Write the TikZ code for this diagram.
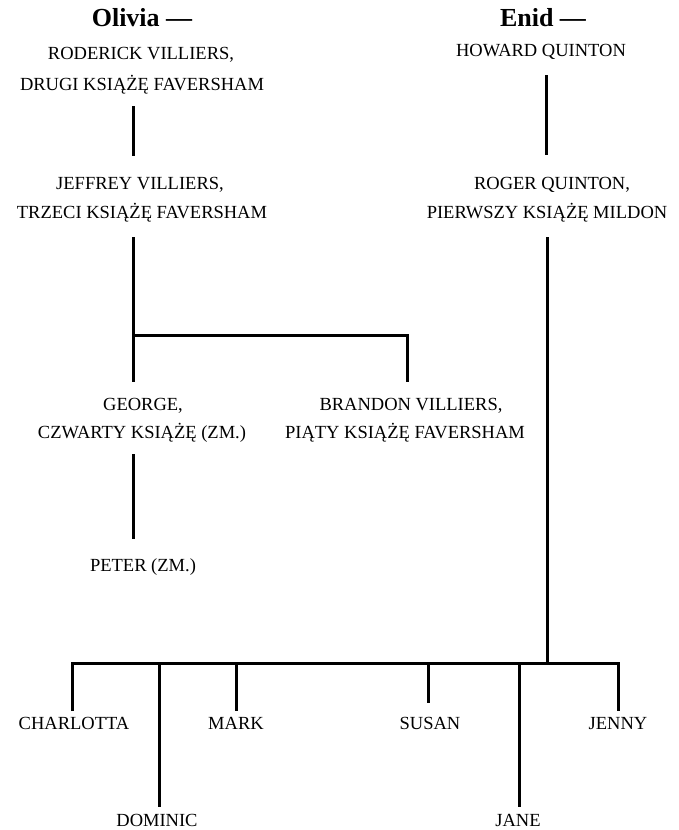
\documentclass[tikz,border=0pt]{standalone}
\usepackage{fontspec}
\setmainfont{Liberation Serif}
\begin{document}
\begin{tikzpicture}[x=1pt,y=-1pt,
  nm/.style={anchor=base,inner sep=0pt,font=\fontsize{18.5}{22}\selectfont},
  hd/.style={anchor=base,inner sep=0pt,font=\fontsize{26}{30}\selectfont\bfseries},
  link/.style={line width=3pt,line cap=butt}]
\useasboundingbox (0,0) rectangle (678,830);
% headings
\node[hd] (oli) at (142,26.5) {Olivia ---};
\node[hd] (eni) at (543,26.5) {Enid ---};
% left branch
\node[nm] (rod1) at (141,59) {RODERICK VILLIERS,};
\node[nm] (rod2) at (142,90) {DRUGI KSIĄŻĘ FAVERSHAM};
\node[nm] (jef1) at (140,189) {JEFFREY VILLIERS,};
\node[nm] (jef2) at (142,218) {TRZECI KSIĄŻĘ FAVERSHAM};
\node[nm] (geo1) at (143,410) {GEORGE,};
\node[nm] (geo2) at (142,438) {CZWARTY KSIĄŻĘ (ZM.)};
\node[nm] (bra1) at (411,410) {BRANDON VILLIERS,};
\node[nm] (bra2) at (405,438) {PIĄTY KSIĄŻĘ FAVERSHAM};
\node[nm] (pet) at (143,571) {PETER (ZM.)};
% right branch
\node[nm] (how) at (541,56) {HOWARD QUINTON};
\node[nm] (rog1) at (552,189) {ROGER QUINTON,};
\node[nm] (rog2) at (547,218) {PIERWSZY KSIĄŻĘ MILDON};
% children
\node[nm] (cha) at (74,729) {CHARLOTTA};
\node[nm] (mar) at (236,729) {MARK};
\node[nm] (sus) at (430,729) {SUSAN};
\node[nm] (jen) at (618,729) {JENNY};
\node[nm] (dom) at (157,826) {DOMINIC};
\node[nm] (jan) at (518,826) {JANE};
% connector points
\coordinate (l1a) at (133,106); \coordinate (l1b) at (133,156);
\coordinate (r1a) at (546,75);  \coordinate (r1b) at (546,155);
\coordinate (l2a) at (133,237); \coordinate (l2b) at (133,382);
\coordinate (lj) at (133,335);  \coordinate (lbr) at (407,382);
\coordinate (l3a) at (133,454); \coordinate (l3b) at (133,539);
\coordinate (r2a) at (547,237); \coordinate (r2b) at (547,663);
\coordinate (barL) at (72,663); \coordinate (barR) at (618,663);
% lines
\draw[link] (l1a) -- (l1b);
\draw[link] (r1a) -- (r1b);
\draw[link] (l2a) -- (l2b);
\draw[link] (lj) -| (lbr);
\draw[link] (l3a) -- (l3b);
\draw[link] (r2a) -- (r2b);
\draw[link] (barL |- 0,711) -- (barL) -- (barR) -- (barR |- 0,711);
\draw[link] (159,663) -- (159,807);
\draw[link] (236,663) -- (236,711);
\draw[link] (428,663) -- (428,703);
\draw[link] (519,663) -- (519,807);
\end{tikzpicture}
\end{document}
